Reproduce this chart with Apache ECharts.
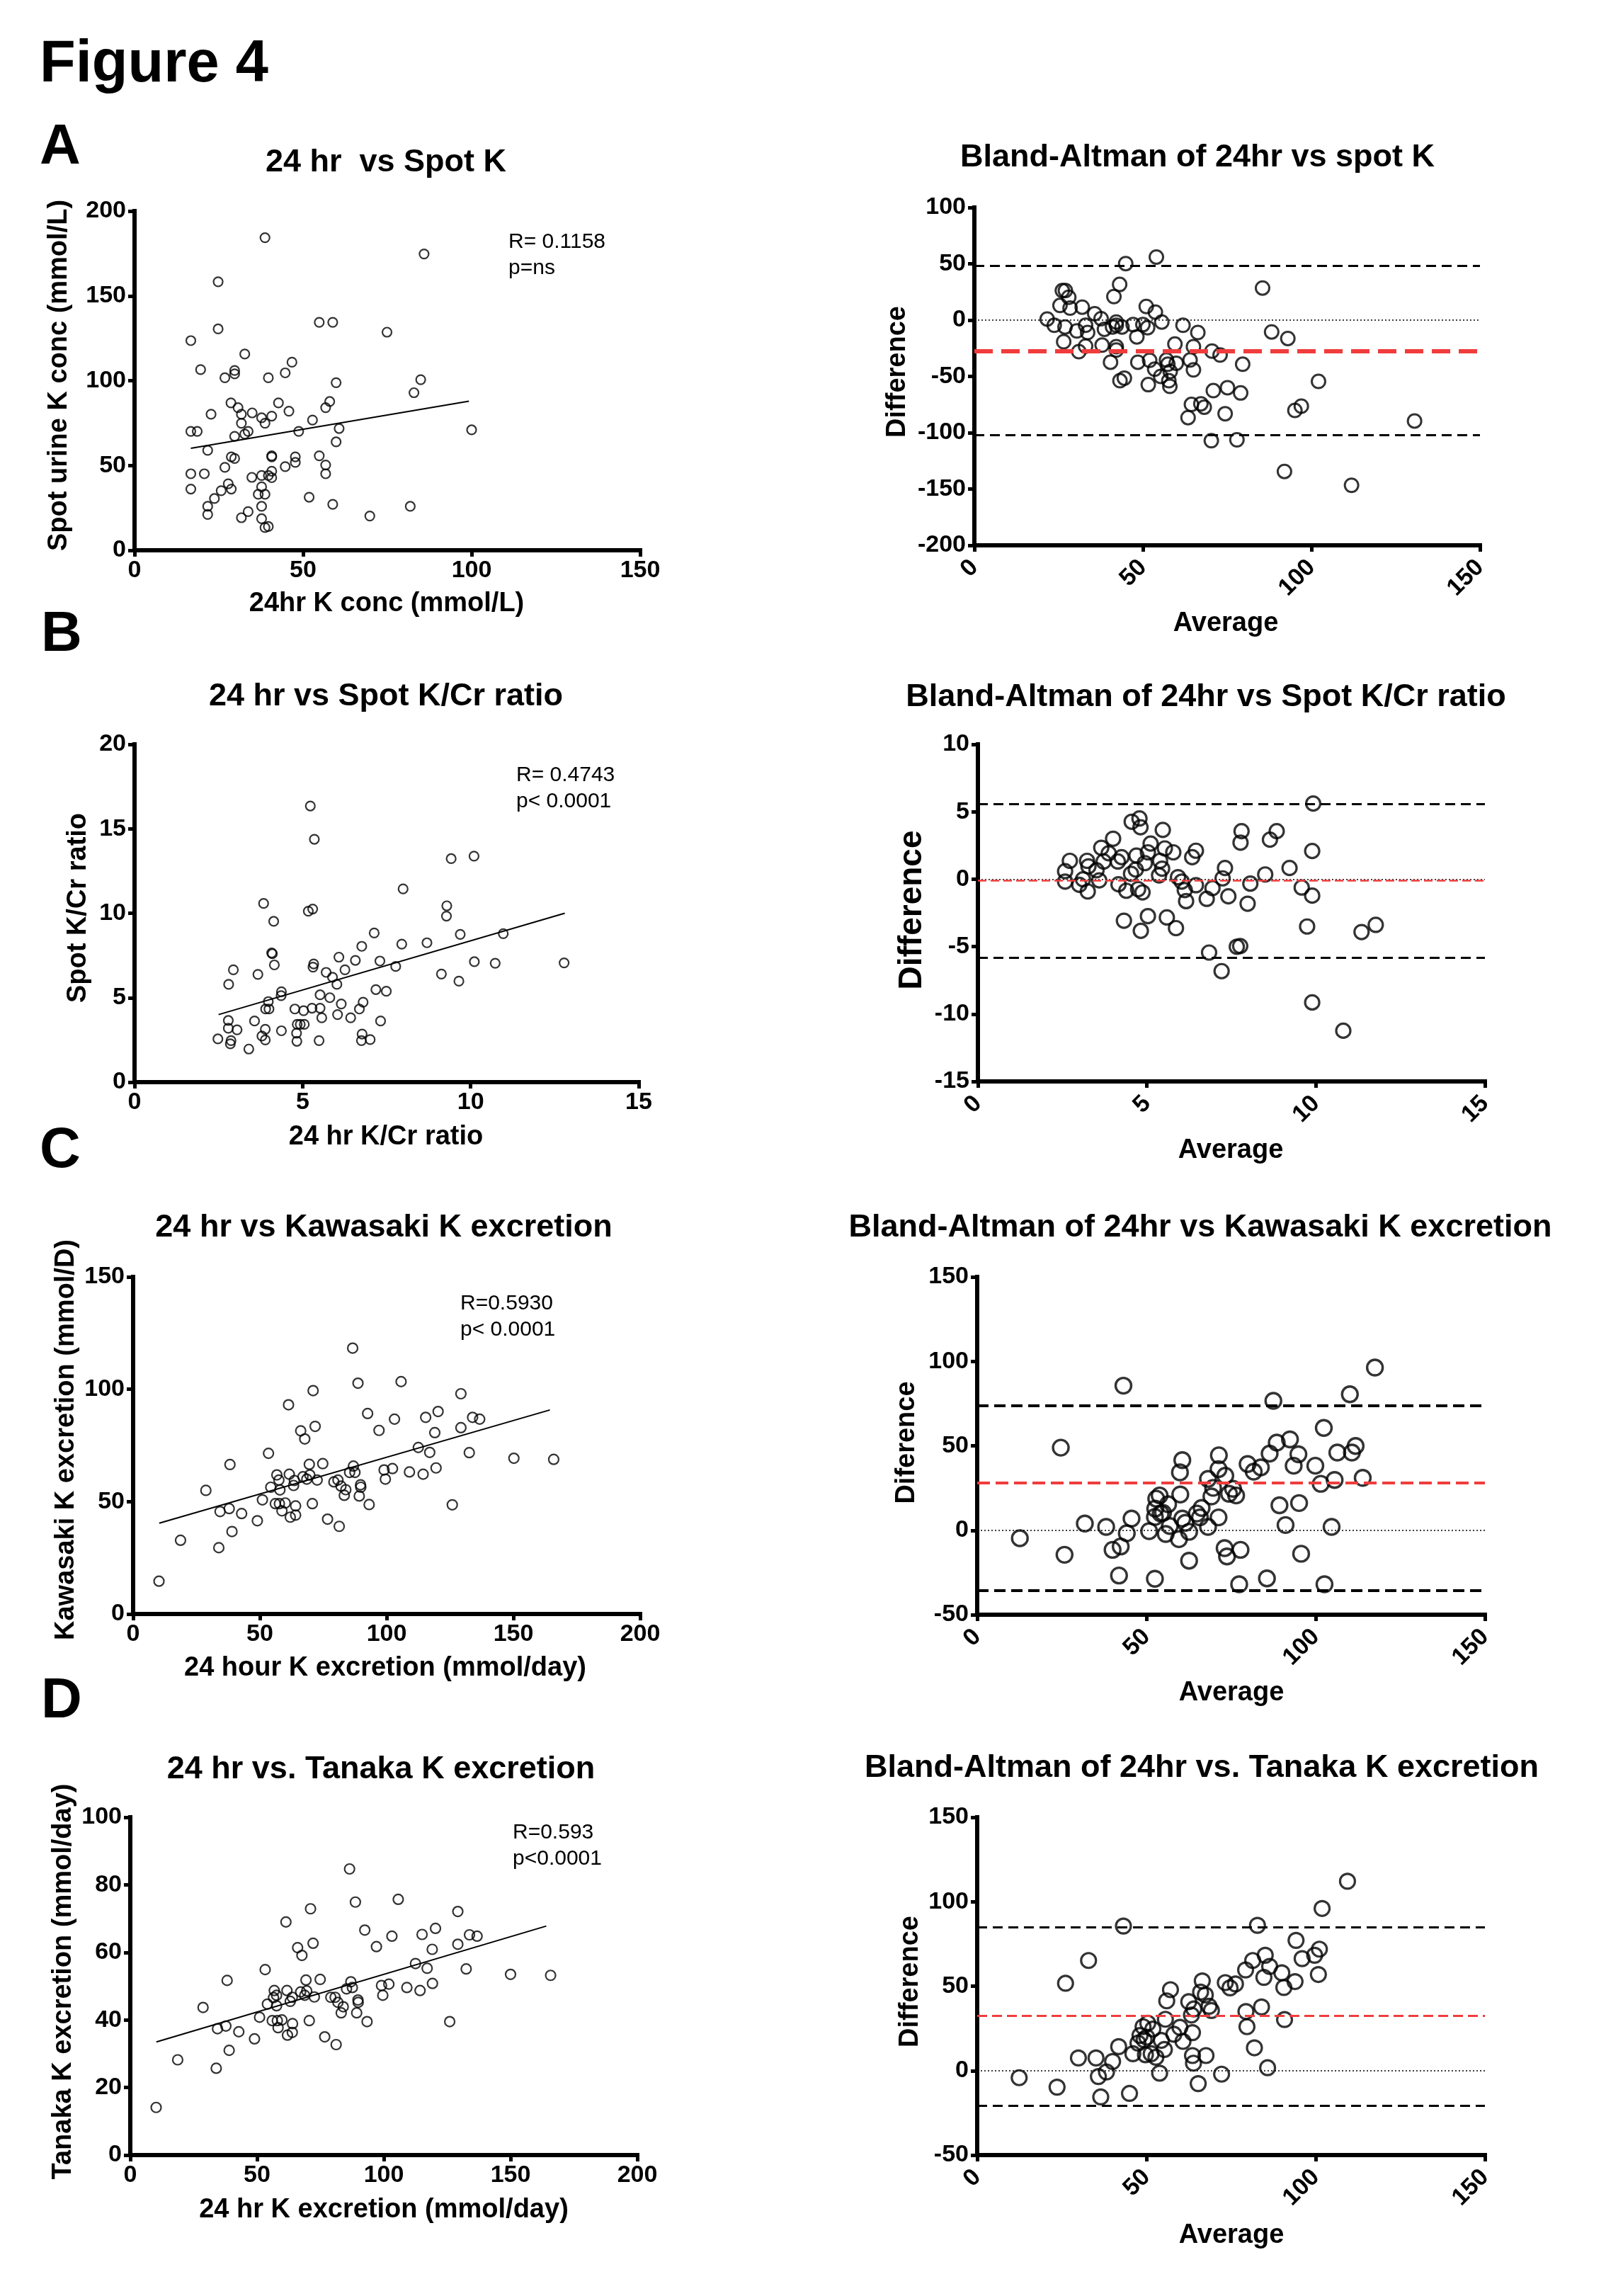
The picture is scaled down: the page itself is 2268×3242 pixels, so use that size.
<!DOCTYPE html>
<html><head><meta charset="utf-8">
<script src="https://cdn.jsdelivr.net/npm/echarts/dist/echarts.min.js"></script>
<style>html,body{margin:0;padding:0;background:#fff}#c{width:2268px;height:3242px}</style>
</head><body><div id="c"></div>
<script>
// ---------- DATA ----------
// Panel A: 24 hr vs Spot K  [24hr K conc, spot K conc]
const scatterA = [[38.7,184.3],[85.9,174.7],[24.8,158.3],[54.8,134.4],[58.8,134.4],[74.9,128.6],[24.8,130.5],[16.7,123.6],[32.7,115.7],[46.7,110.9],
[44.7,104.6],[19.6,106.5],[29.7,106.0],[29.7,104.0],[26.8,101.7],[39.7,101.7],[59.8,98.8],[84.9,100.6],[82.9,92.9],[57.9,87.7],
[56.7,84.1],[28.6,86.9],[30.7,84.1],[42.7,86.9],[45.8,82.0],[22.7,80.2],[31.7,80.2],[34.9,81.0],[40.7,79.1],[37.7,78.1],
[52.8,76.8],[31.7,74.9],[38.7,74.9],[60.7,71.8],[16.7,70.1],[18.6,70.1],[100.0,71.0],[48.7,70.1],[33.7,70.1],[29.7,67.2],
[32.7,68.5],[59.8,63.9],[21.7,58.9],[28.7,55.1],[29.7,54.1],[40.7,55.7],[40.7,55.1],[54.8,55.7],[47.7,55.1],[47.7,51.8],
[56.7,50.3],[44.7,49.3],[26.8,48.9],[16.7,45.1],[20.7,45.1],[56.7,45.1],[40.7,46.6],[39.7,44.1],[37.7,44.1],[34.8,43.0],
[40.7,42.8],[27.8,39.2],[16.7,36.1],[25.7,35.1],[28.7,36.1],[37.7,37.4],[36.7,33.0],[38.7,33.0],[23.7,30.5],[51.8,31.3],
[21.7,25.9],[37.7,25.9],[58.8,27.1],[81.8,25.9],[21.7,21.1],[33.7,22.8],[31.7,19.2],[69.8,20.2],[37.7,18.6],[38.7,13.4],[39.7,14.0]];
const fitA = [[16.7,60.1],[99.2,87.9]];
const statsA = ['R= 0.1158','p=ns'];

const blandA = [[21.6,1.0],[23.7,-4.6],[25.4,13.0],[26.1,26.2],[27.0,26.2],[28.0,20.3],[28.4,10.7],[26.9,-6.1],[26.5,-19.2],[30.4,-9.6],
[31.0,-28.0],[32.0,11.5],[33.0,-4.6],[33.6,-11.0],[33.0,-23.1],[35.7,5.7],[37.6,1.3],[38.6,-8.1],[37.9,-22.2],[40.4,-37.4],
[41.4,20.9],[42.1,-1.7],[41.0,-6.1],[42.1,-4.6],[43.1,31.7],[44.9,50.2],[42.1,-23.6],[42.1,-26.6],[43.2,-53.8],[44.5,-51.5],
[43.8,-6.1],[47.1,-4.0],[48.2,-14.9],[48.5,-37.4],[50.0,-4.0],[51.0,12.1],[51.4,-6.7],[52.0,-35.7],[51.6,-57.3],[53.7,7.1],
[54.0,56.0],[55.6,-1.7],[53.5,-43.6],[55.3,-50.0],[57.0,-35.4],[57.4,-39.2],[58.1,-45.6],[57.7,-53.8],[58.0,-58.8],[59.9,-38.3],
[59.5,-21.3],[61.9,-4.6],[64.0,-35.4],[65.0,-23.6],[65.0,-44.2],[64.4,-74.9],[63.4,-86.6],[66.3,-11.0],[67.2,-74.3],[68.2,-77.3],
[70.5,-27.5],[70.9,-62.6],[72.9,-31.0],[70.3,-107.1],[75.1,-60.0],[74.4,-83.1],[79.0,-64.7],[79.6,-39.2],[77.9,-106.3],[85.5,28.5],
[88.2,-10.5],[93.0,-16.3],[92.0,-134.4],[95.1,-80.2],[97.0,-76.4],[102.1,-54.4],[111.9,-146.7],[130.6,-89.6]];
const limitsA = {upper:48.4, mean:-27.5, lower:-102.2};

// Panel B: K/Cr ratio
const scatterB = [[5.23,16.35],[5.35,14.38],[9.42,13.23],[10.10,13.38],[7.99,11.44],[3.84,10.58],[5.17,10.12],[5.30,10.25],[9.29,10.44],[9.28,9.83],
[4.14,9.52],[7.13,8.83],[9.69,8.75],[10.97,8.79],[7.95,8.17],[8.70,8.25],[6.76,8.04],[4.08,7.65],[4.10,7.60],[6.08,7.40],
[6.57,7.21],[7.30,7.17],[10.11,7.13],[10.73,7.04],[12.78,7.06],[4.16,6.94],[5.33,7.00],[5.31,6.81],[2.94,6.65],[6.26,6.65],
[5.70,6.50],[7.77,6.85],[3.67,6.38],[9.13,6.40],[5.89,6.21],[2.80,5.79],[6.02,5.79],[9.65,5.98],[7.18,5.48],[7.49,5.38],
[4.37,5.35],[4.36,5.12],[5.52,5.17],[5.81,5.00],[3.98,4.77],[6.80,4.73],[6.15,4.63],[3.90,4.33],[4.00,4.33],[4.77,4.33],
[5.03,4.23],[5.28,4.38],[5.52,4.38],[6.69,4.33],[5.57,3.81],[6.04,4.00],[6.43,3.81],[2.79,3.65],[3.57,3.62],[7.32,3.62],
[2.79,3.19],[3.05,3.10],[3.89,3.13],[4.84,3.42],[4.93,3.42],[5.05,3.42],[4.37,3.04],[4.82,2.90],[6.77,2.85],[2.48,2.56],
[3.79,2.73],[2.87,2.46],[2.85,2.27],[3.89,2.50],[4.83,2.42],[5.49,2.46],[6.75,2.46],[7.01,2.52],[3.40,1.96]];
const fitB = [[2.5,4.0],[12.8,10.0]];
const statsB = ['R= 0.4743','p< 0.0001'];

const blandB = [[9.92,5.61],[4.78,4.50],[4.55,4.26],[4.81,3.85],[5.47,3.65],[7.80,3.56],[8.84,3.56],[4.00,3.00],[8.64,2.93],[7.77,2.71],
[5.11,2.64],[3.65,2.33],[5.53,2.28],[3.87,1.92],[5.78,1.99],[5.03,1.99],[6.45,2.11],[9.89,2.09],[6.34,1.63],[4.25,1.63],
[4.69,1.75],[2.72,1.36],[3.23,1.36],[3.72,1.31],[4.14,1.31],[5.39,1.36],[4.94,1.19],[3.27,0.95],[5.45,0.78],[4.67,0.71],
[7.31,0.83],[9.22,0.83],[3.51,0.66],[2.58,0.59],[4.53,0.40],[8.50,0.35],[5.36,0.28],[5.92,0.15],[7.24,0.06],[3.11,-0.01],
[3.59,-0.09],[2.58,-0.18],[6.03,-0.18],[8.06,-0.33],[3.00,-0.42],[4.16,-0.38],[6.45,-0.45],[9.58,-0.62],[6.94,-0.67],[4.74,-0.74],
[6.12,-0.81],[4.39,-0.86],[3.25,-0.91],[4.87,-0.98],[9.89,-1.22],[7.41,-1.27],[6.77,-1.46],[6.16,-1.63],[7.98,-1.82],[5.03,-2.74],
[5.59,-2.84],[4.32,-3.08],[11.77,-3.39],[5.86,-3.63],[9.74,-3.51],[4.82,-3.83],[11.35,-3.92],[7.76,-4.96],[7.66,-5.01],[6.84,-5.44],
[7.21,-6.82],[9.89,-9.14],[10.81,-11.24]];
const limitsB = {upper:5.6, mean:-0.1, lower:-5.8};

// Panel C: Kawasaki
const scatterC = [[10.2,14.6],[18.7,32.8],[28.7,55.0],[33.8,29.5],[34.3,45.6],[37.9,46.9],[38.2,66.5],[39.0,36.7],[42.8,44.7],[49.0,41.5],
[51.0,50.8],[53.4,71.5],[54.3,56.4],[56.1,49.1],[56.7,61.9],[57.5,59.6],[57.9,55.2],[57.7,49.1],[58.7,45.9],[60.0,49.4],
[61.3,93.1],[61.6,62.2],[62.0,43.1],[63.3,57.2],[63.6,59.4],[64.1,48.1],[64.1,44.0],[66.1,81.5],[67.0,61.1],[67.7,77.9],
[68.5,60.0],[69.5,66.6],[69.7,61.9],[70.7,49.1],[71.0,99.4],[71.8,83.5],[72.6,59.6],[74.8,66.9],[76.7,42.2],[79.2,58.8],
[80.8,59.6],[81.3,39.0],[82.0,56.9],[83.3,52.8],[83.9,55.3],[85.4,63.0],[86.6,118.3],[86.9,65.8],[87.5,63.0],[88.7,102.7],
[89.2,52.5],[89.7,57.5],[89.8,56.4],[92.5,89.2],[93.1,48.7],[97.0,81.7],[99.0,64.1],[99.5,60.0],[102.3,64.7],[103.1,86.7],
[105.7,103.4],[109.0,63.2],[112.5,74.1],[114.4,62.2],[115.4,87.5],[117.0,71.9],[119.0,80.7],[119.5,65.0],[120.3,90.1],[125.9,48.6],
[129.3,98.0],[129.3,82.9],[132.6,71.8],[133.9,87.5],[136.7,86.7],[150.2,69.3],[165.9,68.8]];
const fitC = [[10.3,40.4],[164.4,90.8]];
const statsC = ['R=0.5930','p< 0.0001'];

const blandC = [[12.6,-4.7],[24.7,48.9],[25.8,-14.5],[31.8,4.0],[38.1,2.0],[40.0,-11.6],[42.4,-9.6],[43.2,85.6],[44.2,-1.8],[41.9,-26.8],
[45.6,6.9],[50.8,-0.5],[52.5,-28.7],[52.5,7.9],[52.6,12.8],[52.9,18.7],[53.9,20.6],[54.2,9.9],[54.9,10.3],[55.7,-2.2],
[56.4,15.4],[56.9,2.5],[59.6,-5.3],[59.9,34.3],[60.6,41.5],[60.0,21.2],[60.6,6.9],[61.5,4.4],[62.6,-0.9],[62.6,-18.0],
[64.9,9.9],[66.3,13.2],[65.8,7.6],[68.2,2.0],[68.2,30.4],[69.2,20.0],[69.7,25.1],[71.4,44.4],[71.3,36.2],[71.3,7.6],
[73.1,-10.6],[73.8,-15.5],[73.3,32.3],[74.4,21.6],[75.6,24.5],[76.5,20.6],[77.4,-32.0],[77.8,-11.6],[79.9,39.2],[81.7,34.7],
[83.8,37.2],[85.6,-28.5],[86.4,45.4],[87.5,76.6],[88.5,51.9],[89.3,14.8],[91.1,3.1],[92.4,53.8],[93.5,38.2],[94.9,45.0],
[95.1,16.1],[95.7,-13.9],[99.9,38.2],[101.5,27.5],[102.4,60.6],[102.6,-32.0],[104.7,2.0],[105.6,29.8],[106.4,46.0],[110.1,80.5],
[110.7,46.0],[111.8,49.9],[113.9,31.0],[117.5,96.3]];
const limitsC = {upper:73.9, mean:28.0, lower:-35.6};

// Panel D: Tanaka
const scatterD = [[10.2,14.1],[18.7,28.2],[28.7,43.7],[33.9,25.7],[34.4,37.4],[37.7,38.2],[38.2,51.7],[39.0,31.0],[42.8,36.5],[49.0,34.4],
[51.0,40.8],[53.2,54.9],[54.1,44.7],[56.0,39.8],[56.5,46.6],[56.8,48.7],[57.7,47.3],[57.7,44.2],[58.0,39.8],[58.3,37.7],
[59.8,40.0],[61.4,69.0],[61.8,48.7],[62.0,35.5],[63.1,45.5],[63.9,46.7],[64.0,38.9],[63.9,36.3],[66.0,61.4],[67.2,48.3],
[67.7,59.1],[68.8,47.3],[69.3,51.8],[69.6,48.6],[70.6,39.8],[71.1,72.9],[72.1,62.7],[72.6,46.8],[74.9,52.0],[76.7,35.0],
[79.1,46.7],[80.8,46.7],[81.2,32.7],[81.9,45.2],[83.2,42.1],[84.0,43.9],[85.3,49.2],[86.5,84.7],[87.0,51.3],[87.6,49.6],
[88.8,74.9],[89.3,42.1],[89.8,45.9],[89.9,45.2],[92.5,66.6],[93.4,39.5],[97.1,61.7],[99.1,50.2],[99.6,47.3],[102.0,50.6],
[103.2,64.8],[105.7,75.7],[109.1,49.6],[112.5,56.7],[114.3,48.7],[115.1,65.3],[117.1,55.3],[119.1,60.9],[119.2,50.8],[120.4,67.1],
[126.0,39.5],[129.2,72.1],[129.2,62.4],[132.5,55.1],[133.8,65.2],[136.8,64.8],[150.0,53.5],[165.8,53.2]];
const fitD = [[10.3,33.5],[164.1,67.8]];
const statsD = ['R=0.593','p<0.0001'];

const blandD = [[12.4,-4.2],[23.6,-9.8],[26.1,51.7],[29.9,7.5],[32.9,65.2],[35.1,7.5],[35.8,-3.5],[36.5,-15.6],[38.2,-0.8],[40.0,5.4],
[41.8,14.2],[43.2,85.6],[45.0,-13.5],[46.0,10.0],[47.5,16.3],[48.1,20.8],[49.0,26.0],[49.3,18.3],[49.7,9.4],[50.1,19.8],
[50.4,28.1],[51.4,10.0],[51.9,24.6],[52.8,7.9],[53.9,-1.5],[54.4,17.9],[55.3,12.5],[55.6,30.4],[56.0,41.3],[57.1,47.9],
[58.1,21.5],[59.9,25.6],[60.8,17.3],[62.5,40.8],[63.3,32.9],[63.6,22.5],[63.6,8.9],[63.9,4.4],[64.0,36.5],[65.3,-7.7],
[66.0,46.5],[66.5,53.1],[67.4,44.8],[67.6,8.9],[68.5,38.1],[69.2,35.6],[72.2,-2.1],[73.3,52.1],[74.7,49.0],[76.3,51.3],
[79.3,59.6],[79.4,35.0],[79.7,26.0],[81.4,65.2],[81.9,13.5],[82.8,86.0],[84.0,37.7],[84.7,55.2],[85.1,68.3],[85.8,1.7],
[86.4,61.7],[90.0,57.9],[90.6,49.2],[90.8,30.2],[93.9,52.7],[94.2,77.1],[96.0,66.3],[99.7,68.3],[100.8,56.9],[101.1,71.9],
[101.9,96.0],[109.4,112.1]];
const limitsD = {upper:85.0, mean:32.5, lower:-20.8};

// Axis ranges [min, max, interval]
const xRangeA = [0,150,50], yRangeA = [0,200,50], xRangeBA_A = [0,150,50], yRangeBA_A = [-200,100,50];
const xRangeB = [0,15,5], yRangeB = [0,20,5], xRangeBA_B = [0,15,5], yRangeBA_B = [-15,10,5];
const xRangeC = [0,200,50], yRangeC = [0,150,50], xRangeBA_C = [0,150,50], yRangeBA_C = [-50,150,50];
const xRangeD = [0,200,50], yRangeD = [0,100,20], xRangeBA_D = [0,150,50], yRangeBA_D = [-50,150,50];

// Texts
const figureTitle = 'Figure 4';
const panelLetters = ['A','B','C','D'];
const leftTitles = ['24 hr  vs Spot K','24 hr vs Spot K/Cr ratio','24 hr vs Kawasaki K excretion','24 hr vs. Tanaka K excretion'];
const rightTitles = ['Bland-Altman of 24hr vs spot K','Bland-Altman of 24hr vs Spot K/Cr ratio','Bland-Altman of 24hr vs Kawasaki K excretion','Bland-Altman of 24hr vs. Tanaka K excretion'];
const leftXNames = ['24hr K conc (mmol/L)','24 hr K/Cr ratio','24 hour K excretion (mmol/day)','24 hr K excretion (mmol/day)'];
const leftYNames = ['Spot urine K conc (mmol/L)','Spot K/Cr ratio','Kawasaki K excretion (mmol/D)','Tanaka K excretion (mmol/day)'];
const rightXName = 'Average';
const rightYNames = ['Difference','Difference','Diference','Difference'];

// ---------- LAYOUT / STYLE ----------
const FONT = '"Liberation Sans", Arial, Helvetica, sans-serif';
const RED = '#f03c3c';
const layout = [
  { L:{left:190,top:298,width:714,height:479}, R:{left:1376,top:293,width:714,height:477},
    Lt:[545,230], Rt:[1691,223], Lx:[546,853], Ly:[84,530], Rx:[1731,881], Ry:[1268,525], ryFont:38,
    st:[718,342], letter:[56,209],
    red:{w:6,d:[26,12]}, blk:{w:3,d:[14,8]}, ms:[13,19], bw:[2.2,3] },
  { L:{left:190,top:1051,width:712,height:477}, R:{left:1381,top:1051,width:716,height:476},
    Lt:[545,984], Rt:[1703,985], Lx:[545,1606], Ly:[111,1282], Rx:[1738,1625], Ry:[1288,1285], ryFont:46,
    st:[729,1095], letter:[58,897],
    red:{w:2.5,d:[12,6]}, blk:{w:3,d:[14,8]}, ms:[13,20], bw:[2.2,3.2] },
  { L:{left:188,top:1803,width:716,height:476}, R:{left:1380,top:1803,width:717,height:477},
    Lt:[542,1734], Rt:[1695,1734], Lx:[544,2356], Ly:[94,2033], Rx:[1739,2391], Ry:[1281,2037], ryFont:38,
    st:[650,1841], letter:[56,1626],
    red:{w:4,d:[18,8]}, blk:{w:4,d:[16,8]}, ms:[14,22], bw:[2.2,3.4] },
  { L:{left:184,top:2566,width:716,height:477}, R:{left:1380,top:2566,width:717,height:477},
    Lt:[538,2499], Rt:[1697,2497], Lx:[542,3121], Ly:[90,2798], Rx:[1739,3157], Ry:[1286,2798], ryFont:38,
    st:[724,2588], letter:[58,2403],
    red:{w:3,d:[14,7]}, blk:{w:3,d:[14,8]}, ms:[14,21], bw:[2.2,3.2] }
];

const scatters = [scatterA, scatterB, scatterC, scatterD];
const fits = [fitA, fitB, fitC, fitD];
const stats = [statsA, statsB, statsC, statsD];
const blands = [blandA, blandB, blandC, blandD];
const limits = [limitsA, limitsB, limitsC, limitsD];
const xRangesL = [xRangeA, xRangeB, xRangeC, xRangeD];
const yRangesL = [yRangeA, yRangeB, yRangeC, yRangeD];
const xRangesR = [xRangeBA_A, xRangeBA_B, xRangeBA_C, xRangeBA_D];
const yRangesR = [yRangeBA_A, yRangeBA_B, yRangeBA_C, yRangeBA_D];

function makeAxis(r, gridIndex, rotated) {
  return {
    type:'value', gridIndex, min:r[0], max:r[1], interval:r[2],
    splitLine:{show:false},
    axisLine:{show:true, onZero:false, lineStyle:{color:'#000', width:6, cap:'square'}},
    axisTick:{show:true, inside:false, length:9, lineStyle:{color:'#000', width:5}},
    axisLabel:{color:'#000', fontFamily:FONT, fontWeight:'bold', fontSize:34,
               margin: rotated ? 26 : 12, rotate: rotated ? 45 : 0, showMinLabel:true, showMaxLabel:true}
  };
}

const grids = [], xAxes = [], yAxes = [], series = [], graphics = [];
function txt(x, y, text, font, align, vAlign, rot) {
  graphics.push({type:'text', x, y, rotation: rot || 0, silent:true,
    style:{text, font, fill:'#000', align: align || 'center', verticalAlign: vAlign || 'middle'}});
}

graphics.push({type:'text', x:56, y:92, silent:true, style:{text:figureTitle, font:'bold 83px ' + FONT, fill:'#000', align:'left', verticalAlign:'middle'}});

for (let i = 0; i < 4; i++) {
  const ly = layout[i];
  // left scatter panel
  const gl = grids.length;
  grids.push(Object.assign({containLabel:false}, ly.L));
  xAxes.push(makeAxis(xRangesL[i], gl, false));
  yAxes.push(makeAxis(yRangesL[i], gl, false));
  series.push({type:'scatter', xAxisIndex:gl, yAxisIndex:gl, data:scatters[i], symbol:'circle', symbolSize:ly.ms[0],
    itemStyle:{color:'rgba(0,0,0,0)', borderColor:'#000', borderWidth:ly.bw[0]}, emphasis:{disabled:true}, z:3});
  series.push({type:'line', xAxisIndex:gl, yAxisIndex:gl, data:fits[i], showSymbol:false, symbol:'none',
    lineStyle:{color:'#000', width:2}, emphasis:{disabled:true}, z:2});
  // right Bland-Altman panel
  const gr = grids.length;
  grids.push(Object.assign({containLabel:false}, ly.R));
  xAxes.push(makeAxis(xRangesR[i], gr, true));
  yAxes.push(makeAxis(yRangesR[i], gr, false));
  const lim = limits[i];
  series.push({type:'scatter', xAxisIndex:gr, yAxisIndex:gr, data:blands[i], symbol:'circle', symbolSize:ly.ms[1],
    itemStyle:{color:'rgba(0,0,0,0)', borderColor:'#000', borderWidth:ly.bw[1]}, emphasis:{disabled:true}, z:3,
    markLine:{silent:true, symbol:['none','none'], label:{show:false}, animation:false,
      data:[
        {yAxis:0, lineStyle:{color:'#000', width:1.5, type:[2,3]}},
        {yAxis:lim.upper, lineStyle:{color:'#000', width:ly.blk.w, type:ly.blk.d}},
        {yAxis:lim.lower, lineStyle:{color:'#000', width:ly.blk.w, type:ly.blk.d}},
        {yAxis:lim.mean, lineStyle:{color:RED, width:ly.red.w, type:ly.red.d}}
      ]}});

  // texts
  txt(ly.letter[0], ly.letter[1], panelLetters[i], 'bold 80px ' + FONT, 'left');
  txt(ly.Lt[0], ly.Lt[1], leftTitles[i], 'bold 45px ' + FONT);
  txt(ly.Rt[0], ly.Rt[1], rightTitles[i], 'bold 45px ' + FONT);
  txt(ly.Lx[0], ly.Lx[1], leftXNames[i], 'bold 38px ' + FONT);
  txt(ly.Ly[0], ly.Ly[1], leftYNames[i], 'bold 38px ' + FONT, 'center', 'middle', Math.PI/2);
  txt(ly.Rx[0], ly.Rx[1], rightXName, 'bold 38px ' + FONT);
  txt(ly.Ry[0], ly.Ry[1], rightYNames[i], 'bold ' + ly.ryFont + 'px ' + FONT, 'center', 'middle', Math.PI/2);
  txt(ly.st[0], ly.st[1], stats[i][0], '30px ' + FONT, 'left');
  txt(ly.st[0], ly.st[1] + 37, stats[i][1], '30px ' + FONT, 'left');
}

const chart = echarts.init(document.getElementById('c'), null, {renderer:'canvas', width:2268, height:3242});
chart.setOption({
  backgroundColor:'#fff',
  animation:false,
  grid:grids, xAxis:xAxes, yAxis:yAxes, series:series,
  graphic:{elements:graphics}
});
</script></body></html>
